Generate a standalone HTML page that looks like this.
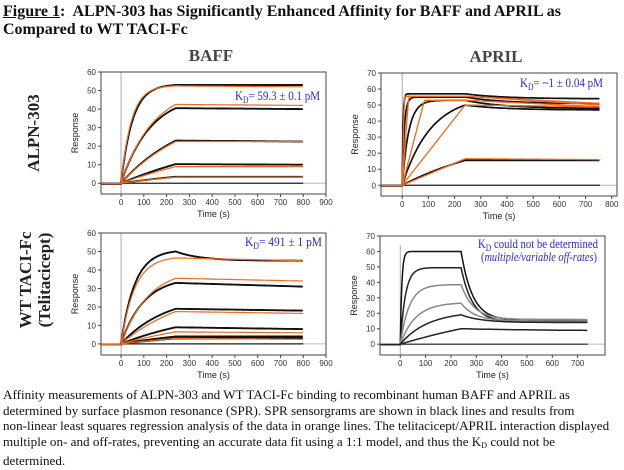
<!DOCTYPE html>
<html><head><meta charset="utf-8">
<style>
html,body{margin:0;padding:0;background:#fff;}
body{width:624px;height:470px;position:relative;overflow:hidden;font-family:"Liberation Serif",serif;}
#title{position:absolute;left:3px;top:3px;font-weight:bold;font-size:16px;line-height:18px;color:#111;white-space:nowrap;}
#caption{position:absolute;left:3px;top:387px;font-size:13.1px;line-height:15.5px;color:#111;white-space:nowrap;}
svg{position:absolute;left:0;top:0;}
</style></head>
<body>
<div id="title"><u>Figure 1</u>:&nbsp; ALPN-303 has Significantly Enhanced Affinity for BAFF and APRIL as<br>Compared to WT TACI-Fc</div>
<svg id="fig" width="624" height="470">
<text x="211" y="61" text-anchor="middle" font-family="Liberation Serif, serif" font-size="17" font-weight="bold" fill="#444">BAFF</text>
<text x="496" y="62" text-anchor="middle" font-family="Liberation Serif, serif" font-size="17" font-weight="bold" fill="#444">APRIL</text>
<text transform="translate(39,133) rotate(-90)" text-anchor="middle" font-family="Liberation Serif, serif" font-size="17" font-weight="bold" fill="#222">ALPN-303</text>
<text transform="translate(31,280) rotate(-90)" text-anchor="middle" font-family="Liberation Serif, serif" font-size="17" font-weight="bold" fill="#222">WT TACI-Fc</text>
<text transform="translate(50,280) rotate(-90)" text-anchor="middle" font-family="Liberation Serif, serif" font-size="17" font-weight="bold" fill="#222">(Telitacicept)</text>
</svg>
<div id="caption">Affinity measurements of ALPN-303 and WT TACI-Fc binding to recombinant human BAFF and APRIL as<br>determined by surface plasmon resonance (SPR). SPR sensorgrams are shown in black lines and results from<br>non-linear least squares regression analysis of the data in orange lines. The telitacicept/APRIL interaction displayed<br>multiple on- and off-rates, preventing an accurate data fit using a 1:1 model, and thus the K<span style="font-size:8px;vertical-align:-2px">D</span> could not be<br>determined.</div>
<script>
// Panel A: ALPN-303 / BAFF
const aPeak=[53,40.5,23,10.3,3.5];
const aEnd=[53,40,22.5,10,3.5];
const aTau=[50,130,300,600,600];
const aFitPeak=[52.5,42.5,22.5,9,3.3];
const aFitEnd=[52,42,22.5,9,3.3];
const aFitTau=[45,140,320,700,700];
// Panel B: ALPN-303 / APRIL
const bPeak=[57,55,53,50,15.5];
const bEnd=[54,51,48,47,15.5];
const bTau=[3,8,25,110,400];
const bFitPeak=[55.5,55.5,53,50,16.5];
const bFitRamp=[8,25,85,240,240];
const bFitEnd=[51,50,49,49,16];
// Panel C: WT TACI-Fc / BAFF
const cPeak=[50,33,19,9,4,3];
const cEnd=[45,31,18,8,4,3];
const cTau=[60,100,200,400,500,600];
const cFitPeak=[46.5,35.5,17.5,6.5,3];
const cFitEnd=[45,34,16.5,6,2.5];
const cFitTau=[60,120,300,500,600];
// Panel D: WT TACI-Fc / APRIL
const dPeak=[60,49.5,38.5,26.5,19,10];
const dEnd=[15.5,14.5,16,15,14,8.5];
const dTau=[6,20,35,60,110,600];
const dOff=[45,45,50,55,80,400];
const dColor=["#111","#222","#888","#888","#222","#222"];
const xTicksA=[0,100,200,300,400,500,600,700,800,900];
const xTicksB=[0,100,200,300,400,500,600,700,800];
const xTicksD=[0,100,200,300,400,500,600,700];
const yTicks60=[0,10,20,30,40,50,60];
const yTicks70=[0,10,20,30,40,50,60,70];

const NS="http://www.w3.org/2000/svg";
const svg=document.getElementById('fig');
function mk(tag,attrs,parent){const e=document.createElementNS(NS,tag);for(const k in attrs)e.setAttribute(k,attrs[k]);(parent||svg).appendChild(e);return e;}

function makePanel(g){
  const sx=v=>g.l+(v-g.x0)/(g.x1-g.x0)*(g.r-g.l);
  const sy=v=>g.b-(v-g.y0)/(g.y1-g.y0)*(g.b-g.t);
  const grp=mk('g',{});
  
  
  const vl=mk('line',{x1:sx(0),x2:sx(0),y1:g.vTop?sy(g.vTop):g.t,y2:g.b,stroke:'#aaa','stroke-width':1},grp);
  
  
  const hl=mk('line',{x1:g.l,x2:g.r,y1:sy(0),y2:sy(0),stroke:'#bbb','stroke-width':1},grp);
  
  
  const zl=mk('line',{x1:sx(0),x2:sx(g.tEnd),y1:sy(0),y2:sy(0),stroke:'#222','stroke-width':1.2},grp);
  
  
  const box=mk('rect',{x:g.l,y:g.t,width:g.r-g.l,height:g.b-g.t,fill:'none',stroke:'#444','stroke-width':1},grp);
  
  
  g.xt.forEach(v=>{
    mk('line',{x1:sx(v),x2:sx(v),y1:g.b,y2:g.b+3,stroke:'#444'},grp);
    const t=mk('text',{x:sx(v),y:g.b+11,'text-anchor':'middle','font-family':'Liberation Sans, sans-serif','font-size':8,fill:'#333'},grp);
    t.textContent=v;
    
    
  });
  g.yt.forEach(v=>{
    mk('line',{x1:g.l-3,x2:g.l,y1:sy(v),y2:sy(v),stroke:'#444'},grp);
    const t=mk('text',{x:g.l-5,y:sy(v)+3,'text-anchor':'end','font-family':'Liberation Sans, sans-serif','font-size':8,fill:'#333'},grp);
    t.textContent=v;
    
    
  });
  const xl=mk('text',{x:(g.l+g.r)/2,y:g.b+23,'text-anchor':'middle','font-family':'Liberation Sans, sans-serif','font-size':9,fill:'#222'},grp);
  xl.textContent='Time (s)';
  
  
  const yl=mk('text',{transform:`translate(${g.l-23},${(g.t+g.b)/2}) rotate(-90)`,'text-anchor':'middle','font-family':'Liberation Sans, sans-serif','font-size':9,fill:'#222'},grp);
  yl.textContent='Response';
  
  
  return {sx,sy,grp};
}
function trace(p,g,fn,color,w,name){
  let d=`M${p.sx(g.x0+2)},${p.sy(-0.3)} L${p.sx(0)},${p.sy(-0.3)}`;
  for(let t=0;t<=g.tEnd;t+=3)d+=` L${p.sx(t).toFixed(1)},${p.sy(fn(t)).toFixed(1)}`;
  const e=mk('path',{d,fill:'none',stroke:color,'stroke-width':w,'stroke-linejoin':'round'},p.grp);
  
  
}
function expAssoc(P,tau,E,td){
  return t=>{
    if(t<=240)return P*(1-Math.exp(-t/tau))/(1-Math.exp(-240/tau));
    if(!td)return P+(E-P)*(t-240)/560;
    return E+(P-E)*Math.exp(-(t-240)/td);
  };
}
function label(x,y,html,name,size,len){
  const t=mk('text',{x,y,'font-family':'Liberation Serif, serif','font-size':size||13,fill:'#2a2ad0',textLength:len,lengthAdjust:'spacingAndGlyphs'});
  t.innerHTML=html;
  
  
}
const ORANGE='#ec6a22';

const gA={name:'panel-alpn303-baff',l:101,r:326,t:72,b:194,x0:-88,x1:900,y0:-5.8,y1:60,xt:xTicksA,yt:yTicks60,tEnd:800};
const pA=makePanel(gA);
aPeak.forEach((v,i)=>trace(pA,gA,expAssoc(v,aTau[i],aEnd[i]),'#111',1.9,'sensorgram-trace'));
aFitPeak.forEach((v,i)=>trace(pA,gA,expAssoc(v,aFitTau[i],aFitEnd[i]),ORANGE,1.2,'fit-trace'));
label(235,100,'K<tspan font-size="9" dy="3">D</tspan><tspan dy="-3">= 59.3 ± 0.1 pM</tspan>','kd-annotation',13,85);

const gB={name:'panel-alpn303-april',l:381,r:617,t:73,b:196,x0:-81,x1:820,y0:-6.7,y1:70,xt:xTicksB,yt:yTicks70,tEnd:755};
const pB=makePanel(gB);
bPeak.forEach((v,i)=>trace(pB,gB,t=>{
  if(t<=240)return v*(1-Math.exp(-t/bTau[i]))/(1-Math.exp(-240/bTau[i]));
  return v+(bEnd[i]-v)*(1-Math.exp(-(t-240)/150))/(1-Math.exp(-515/150));
},'#111',1.7,'sensorgram-trace'));
bFitPeak.forEach((v,i)=>trace(pB,gB,t=>{
  if(t<=bFitRamp[i])return v*t/bFitRamp[i];
  if(t<=240)return v;
  return v+(bFitEnd[i]-v)*(t-240)/515;
},ORANGE,1.3,'fit-trace'));
label(520,87,'K<tspan font-size="9" dy="3">D</tspan><tspan dy="-3">= ~1 ± 0.04 pM</tspan>','kd-annotation',13,83);

const gC={name:'panel-wt-taci-baff',l:101,r:326,t:233,b:355,x0:-88,x1:900,y0:-6,y1:60,xt:xTicksA,yt:yTicks60,tEnd:800};
const pC=makePanel(gC);
cPeak.forEach((v,i)=>trace(pC,gC,expAssoc(v,cTau[i],cEnd[i],i===0?110:0),'#111',1.9,'sensorgram-trace'));
cFitPeak.forEach((v,i)=>trace(pC,gC,expAssoc(v,cFitTau[i],cFitEnd[i]),ORANGE,1.2,'fit-trace'));
label(245,246,'K<tspan font-size="9" dy="3">D</tspan><tspan dy="-3">= 491 ± 1 pM</tspan>','kd-annotation',13,77);

const gD={name:'panel-wt-taci-april',l:380,r:605,t:236,b:355,x0:-80,x1:808,y0:-7,y1:70,xt:xTicksD,yt:yTicks70,tEnd:740,vTop:64};
const pD=makePanel(gD);
dPeak.forEach((v,i)=>trace(pD,gD,t=>{
  if(t<=240)return v*(1-Math.exp(-t/dTau[i]))/(1-Math.exp(-240/dTau[i]));
  return dEnd[i]+(v-dEnd[i])*Math.exp(-(t-240)/dOff[i]);
},dColor[i],1.5,'sensorgram-trace'));
label(478,248,'K<tspan font-size="9" dy="3">D</tspan><tspan dy="-3"> could not be determined</tspan>','kd-annotation',12.5,120);
label(481,261,'(<tspan font-style="italic">multiple/variable off-rates</tspan>)','kd-note',12.5,116);
</script>
</body></html>
